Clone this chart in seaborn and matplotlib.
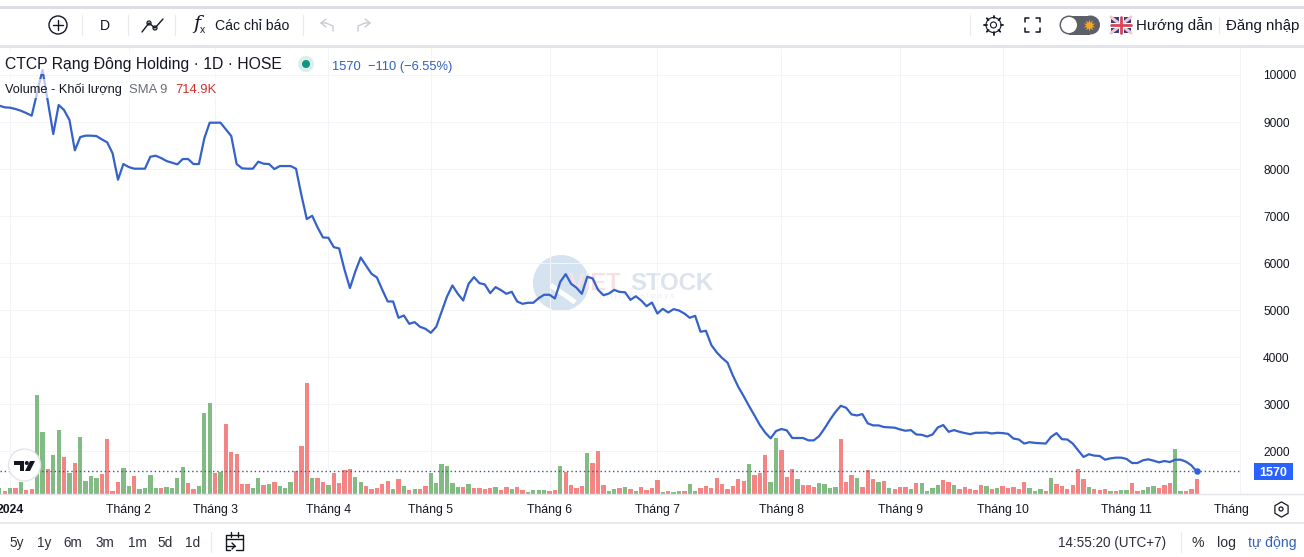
"""
plot.py - Rang Dong Holding daily price line and volume bars, TradingView style
"""

import matplotlib
matplotlib.use("Agg")

import matplotlib.pyplot as plt
import numpy as np
import pandas as pd
import seaborn as sns
from matplotlib.patches import Circle, Rectangle

W, H = 1304, 557

# closing price per session
prices = [
    9348, 9312, 9305, 9277, 9240, 9190, 9135, 9617, 10106, 9433,
    8745, 9362, 9255, 9043, 8398, 8681, 8710, 8710, 8702, 8632,
    8568, 8334, 7774, 8107, 8043, 8008, 8008, 8008, 8263, 8284,
    8234, 8171, 8135, 8100, 8213, 8213, 8107, 8107, 8653, 8986,
    8986, 8986, 8844, 8702, 8107, 8015, 8008, 8008, 8157, 8114,
    8107, 8000, 8064, 8064, 8064, 8008, 7448, 6936, 7007, 6760,
    6546, 6540, 6340, 6312, 5858, 5470, 5823, 6121, 5944, 5773,
    5695, 5433, 5185, 5185, 4838, 4887, 4710, 4745, 4646, 4604,
    4519, 4646, 4972, 5291, 5525, 5348, 5206, 5561, 5703, 5575,
    5547, 5362, 5490, 5426, 5348, 5391, 5185, 5135, 5157, 5157,
    5256, 5327, 5327, 5249, 5603, 5766, 5561, 5476, 5348, 5710,
    5674, 5433, 5318, 5353, 5431, 5388, 5381, 5219, 5296, 5205,
    5085, 5162, 4929, 5028, 4951, 5021, 4993, 4929, 4838, 4880,
    4541, 4562, 4259, 4103, 3983, 3885, 3609, 3369, 3171, 2960,
    2762, 2557, 2395, 2275, 2430, 2473, 2444, 2282, 2282, 2282,
    2232, 2232, 2324, 2487, 2670, 2833, 2967, 2924, 2783, 2762,
    2790, 2593, 2550, 2550, 2515, 2508, 2501, 2464, 2436, 2450,
    2357, 2350, 2314, 2357, 2507, 2557, 2414, 2450, 2414, 2386,
    2364, 2393, 2393, 2400, 2378, 2393, 2386, 2371, 2271, 2250,
    2164, 2193, 2178, 2171, 2164, 2307, 2386, 2257, 2250, 2164,
    2021, 1879, 1936, 1907, 1900, 1821, 1850, 1864, 1864, 1836,
    1750, 1750, 1807, 1829, 1800, 1764, 1793, 1771, 1821, 1821,
    1779, 1700, 1570,
]

# volume in thousand shares (last bar = 714.9K)
volumes = [
    288, 160, 304, 304, 608, 208, 256, 4768, 2992, 1216,
    1888, 3088, 1792, 1024, 1504, 2752, 640, 880, 784, 976,
    2656, 160, 592, 1264, 400, 880, 256, 304, 928, 304,
    304, 352, 304, 784, 1312, 544, 256, 400, 3904, 4384,
    1024, 1072, 3376, 2032, 1936, 496, 496, 304, 784, 448,
    496, 592, 400, 304, 592, 1120, 2320, 5344, 784, 784,
    592, 448, 1024, 544, 1168, 1216, 832, 592, 400, 256,
    304, 496, 640, 256, 736, 400, 208, 256, 256, 400,
    1024, 544, 1456, 1360, 544, 352, 352, 496, 304, 304,
    256, 304, 352, 208, 352, 256, 352, 208, 112, 208,
    208, 208, 160, 208, 1360, 1072, 448, 304, 400, 1984,
    1504, 2080, 448, 160, 256, 304, 352, 256, 160, 352,
    208, 304, 688, 96, 160, 112, 160, 160, 496, 160,
    304, 400, 304, 784, 496, 256, 400, 736, 640, 1456,
    928, 1024, 1888, 592, 2704, 2128, 832, 1216, 736, 448,
    448, 352, 544, 496, 304, 352, 2656, 592, 928, 784,
    352, 1168, 736, 592, 640, 304, 256, 352, 352, 256,
    544, 544, 160, 304, 448, 688, 592, 448, 256, 352,
    256, 208, 448, 400, 256, 304, 400, 304, 352, 256,
    592, 304, 160, 256, 160, 784, 496, 400, 256, 448,
    1216, 736, 352, 256, 208, 256, 160, 160, 208, 208,
    544, 160, 208, 352, 400, 304, 448, 544, 2176, 160,
    160, 256, 715,
]

# g = up session, r = down session, ten per row
volume_dirs = (
    "grgrgrrggr" "ggrgrggggr" "rrrggrgggg" "rggggrrggg" "rgrrrrrggr"
    "grgggrrrgr" "rgrrrrggrr" "rrrgrgrgrr" "ggggggrgrr" "rrgrrgrrgg"
    "ggrrgrrrrg" "rrrggrgrgr" "rrrgrggrgg" "rrrrrrrrrg" "rrrggrrrgr"
    "rrggggrrrg" "rrrgrgrrrg" "rggggrrgrr" "rrrgrgrrrr" "rgggrgrrrr"
    "rrgrrrgrgg" "rrgggrrrgg" "rrr"
)

month_ticks = [2, 24, 40, 61, 80, 102, 122, 145, 167, 186, 209, 230]
month_labels = ["2024", "Tháng 2", "Tháng 3", "Tháng 4", "Tháng 5", "Tháng 6", "Tháng 7",
                "Tháng 8", "Tháng 9", "Tháng 10", "Tháng 11", "Tháng 12"]
price_ticks = [2000, 3000, 4000, 5000, 6000, 7000, 8000, 9000, 10000]
range_labels = ["5y", "1y", "6m", "3m", "1m", "5d", "1d"]
range_x = [17, 44, 73, 105, 137, 165, 193]

LINE = "#3562c9"
GREEN = "#83bb85"
RED = "#f38585"
INK = "#131722"
GRID = "#f2f4f8"
CHROME = "#e2e4ea"
BLUE_TEXT = "#2f62b8"

sns.set_theme(style="white")
plt.rcParams["font.family"] = ["Liberation Sans", "DejaVu Sans"]

df = pd.DataFrame({
    "session": np.arange(len(prices)),
    "price": prices,
    "volume": volumes,
    "direction": list(volume_dirs),
})

fig = plt.figure(figsize=(W / 100, H / 100), dpi=100, facecolor="white")
plot_box = [0, (H - 494.3) / H, 1241 / W, (494.3 - 48) / H]


def pixel_axes(zorder):
    a = fig.add_axes([0, 0, 1, 1], zorder=zorder)
    a.set_xlim(0, W)
    a.set_ylim(H, 0)
    a.axis("off")
    return a


xlim = (0.124, 230.2)
ylim = (1085, 10574)

back = pixel_axes(0)

# watermark sits under the line
back.add_patch(Circle((561, 283), 28, color="#d5e2ef", lw=0))
back.add_patch(Rectangle((552, 283), 30, 5, angle=35, color="white", lw=0))
back.text(569, 284, "VIET", fontsize=17, fontweight="bold", color="#f9e1e3", va="center")
back.text(630, 284, "STOCK", fontsize=17.2, fontweight="bold", color="#dbe4ee", va="center")
back.text(600, 297, "i n t r i n h   a l w a y s", fontsize=5.5, color="#e9edf2", va="center")

ax = fig.add_axes(plot_box, zorder=1)
ax.patch.set_visible(False)
ax.set_xlim(*xlim)
ax.set_ylim(*ylim)
ax.set_yticks(price_ticks)
ax.set_yticklabels([str(p) for p in price_ticks], fontsize=8.6, color=INK)
ax.yaxis.tick_right()
ax.set_xticks(month_ticks)
ax.set_xticklabels(month_labels, fontsize=8.8, color=INK)
ax.get_xticklabels()[0].set_fontweight("bold")
ax.tick_params(axis="x", length=0, pad=7)
ax.tick_params(axis="y", length=0, pad=16)
ax.grid(True, color=GRID, lw=0.72)
sns.despine(ax=ax, left=True, right=True, top=True, bottom=True)
ax.set_xlabel("")
ax.set_ylabel("")

ax_vol = fig.add_axes(plot_box, zorder=2)
ax_vol.patch.set_visible(False)
# set_theme gives patches a white edge, which would eat into these narrow bars
sns.barplot(data=df, x="session", y="volume", hue="direction", palette={"g": GREEN, "r": RED},
            dodge=False, native_scale=True, width=0.8, saturation=1, legend=False,
            linewidth=0, ax=ax_vol)
ax_vol.set_xlim(*xlim)
ax_vol.set_ylim(0, 21400)
ax_vol.axis("off")

ax_line = fig.add_axes(plot_box, zorder=3)
ax_line.patch.set_visible(False)
sns.lineplot(data=df, x="session", y="price", color=LINE, lw=1.6, estimator=None, ax=ax_line)
ax_line.axhline(prices[-1], color="#3a5a80", lw=1, ls=(0, (1, 2)))
ax_line.scatter(df["session"].iloc[-1], prices[-1], s=22, color="#2f62d8", zorder=5, lw=0)
ax_line.set_xlim(*xlim)
ax_line.set_ylim(*ylim)
ax_line.axis("off")

ui = pixel_axes(4)


def label(x, y, s, size=13, color=INK, ha="left", **kw):
    # baseline anchoring keeps accented and plain words on one line
    ui.text(x, y + size * 0.36, s, fontsize=size * 0.72, color=color, ha=ha, va="baseline", **kw)


def stroke(xs, ys, color=INK, lw=1.0):
    ui.plot(xs, ys, color=color, lw=lw, solid_capstyle="round")


# top toolbar
ui.add_patch(Rectangle((0, 6), W, 2.5, color="#dcdee3", lw=0))
ui.add_patch(Rectangle((0, 44.5), W, 3, color=CHROME, lw=0))
for x in [82, 128, 175, 303, 970]:
    stroke([x, x], [15, 35], color="#e8e9ec", lw=0.8)
ui.add_patch(Circle((58, 25), 9, fill=False, ec=INK, lw=1))
stroke([53, 63], [25, 25])
stroke([58, 58], [20, 30])
label(105, 25, "D", 14, ha="center")
stroke([142, 149, 155, 163], [32, 23, 28, 19])
ui.add_patch(Circle((149, 23), 2, fc="white", ec=INK, lw=0.9))
ui.add_patch(Circle((155, 28), 2, fc="white", ec=INK, lw=0.9))
ui.text(197, 24, "f", fontsize=14, family="DejaVu Serif", style="italic", color=INK, ha="center", va="center")
ui.text(203, 30, "x", fontsize=7.5, color=INK, ha="center", va="center")
label(215, 25, "Các chỉ báo", 14)
for tail, head, bend in [(333, 321, 326), (358, 370, 365)]:
    stroke([tail, tail, bend, head], [31, 26, 23, 23], color="#c8cbd2")
    stroke([bend, head, bend], [19, 23, 27], color="#c8cbd2")

# gear, fullscreen, theme toggle, flag
for a in np.arange(8) * np.pi / 4:
    stroke([993.5 + 7 * np.cos(a), 993.5 + 9.5 * np.cos(a)], [25 + 7 * np.sin(a), 25 + 9.5 * np.sin(a)], lw=1.3)
ui.add_patch(Circle((993.5, 25), 7.5, fc="white", ec=INK, lw=0.8))
ui.add_patch(Circle((993.5, 25), 3, fc="white", ec=INK, lw=0.8))
for cx, sx in [(1024.5, 1), (1039.5, -1)]:
    for cy, sy in [(18, 1), (32, -1)]:
        stroke([cx + 4 * sx, cx, cx], [cy, cy, cy + 4 * sy], lw=1.1)
ui.add_patch(Rectangle((1069, 15.5), 21, 19, color="#5d6068", lw=0))
ui.add_patch(Circle((1069, 25), 9.5, color="#5d6068", lw=0))
ui.add_patch(Circle((1090.5, 25), 9.5, color="#5d6068", lw=0))
ui.add_patch(Circle((1069, 25), 8, color="white", lw=0))
ui.scatter([1088.5], [25], s=75, marker=(10, 1, 0), color="#f5a623", lw=0)
ui.add_patch(Rectangle((1111, 17), 20, 16, color="#3b3f78", lw=0))
stroke([1111, 1131], [17, 33], color="#efc9d0", lw=2.2)
stroke([1111, 1131], [33, 17], color="#efc9d0", lw=2.2)
stroke([1121, 1121], [17, 33], color="white", lw=3.6)
stroke([1111, 1131], [25, 25], color="white", lw=3.6)
stroke([1121, 1121], [17, 33], color="#d8445a", lw=2)
stroke([1111, 1131], [25, 25], color="#d8445a", lw=2)
label(1136, 25, "Hướng dẫn", 15)
stroke([1219, 1219], [17, 33], color="#e8e9ec", lw=0.8)
label(1226, 25, "Đăng nhập", 15)

# chart legend, backed by translucent white like the original
ui.add_patch(Rectangle((0, 52), 285, 22, color="white", alpha=0.65, lw=0))
ui.add_patch(Rectangle((0, 79), 220, 19, color="white", alpha=0.65, lw=0))
label(5, 63.5, "CTCP Rạng Đông Holding · 1D · HOSE", 15.7)
ui.add_patch(Circle((306, 64), 8, color="#d9efeb", lw=0))
ui.add_patch(Circle((306, 64), 4, color="#0f9580", lw=0))
label(332, 65, "1570  −110 (−6.55%)", 12.9, color=BLUE_TEXT)
label(5, 88, "Volume - Khối lượng", 12.8)
label(129, 88, "SMA 9", 13, color="#6a6d78")
label(175, 88, "714.9K", 13, color="#d0312d")

# TradingView badge
ui.add_patch(Circle((24.5, 465), 16, fc="white", ec="#e3e5ea", lw=1))
ui.fill([14, 24, 24, 20, 20, 14], [461, 461, 471, 471, 464.5, 464.5], color=INK, lw=0)
ui.add_patch(Circle((26.8, 463), 2, color=INK, lw=0))
ui.fill([30, 35, 30, 25], [461, 461, 471, 471], color=INK, lw=0)

# last price tag
ui.add_patch(Rectangle((1254, 463), 39, 17, color="#2962ff", lw=0))
label(1273.5, 471.5, "1570", 12.5, color="white", ha="center", fontweight="bold")

# time axis edge and settings
ui.plot([0, W], [494.3, 494.3], color=CHROME, lw=1)
ui.add_patch(Rectangle((1250, 497), 54, 24, color="white", lw=0))
ui.scatter([1281], [509], s=120, marker="h", fc="white", ec=INK, lw=0.9)
ui.add_patch(Circle((1281, 509), 2, fc="white", ec=INK, lw=0.9))

# bottom bar
ui.plot([0, W], [522.5, 522.5], color=CHROME, lw=1.2)
for x, s in zip(range_x, range_labels):
    label(x, 542, s, 13.5, ha="center", color="#2a2e39")
stroke([211, 211], [532, 552], color="#e8e9ec", lw=0.8)
stroke([230, 226, 226, 243, 243, 236], [550, 550, 535, 535, 550, 550], lw=1)
stroke([226, 243], [539, 539], lw=1)
stroke([231, 231], [532, 537], lw=1)
stroke([238, 238], [532, 537], lw=1)
stroke([226, 235], [546, 546], lw=1)
stroke([232, 235, 232], [543, 546, 549], lw=1)
label(1058, 542, "14:55:20 (UTC+7)", 13.5, color="#2a2e39")
stroke([1181, 1181], [532, 552], color="#e8e9ec", lw=0.8)
label(1198, 542, "%", 14, ha="center", color="#2a2e39")
label(1226, 542, "log", 14, ha="center", color="#2a2e39")
label(1248, 542, "tự động", 14, color=BLUE_TEXT)

fig.savefig("out.png", dpi=100, facecolor="white")
plt.close(fig)
